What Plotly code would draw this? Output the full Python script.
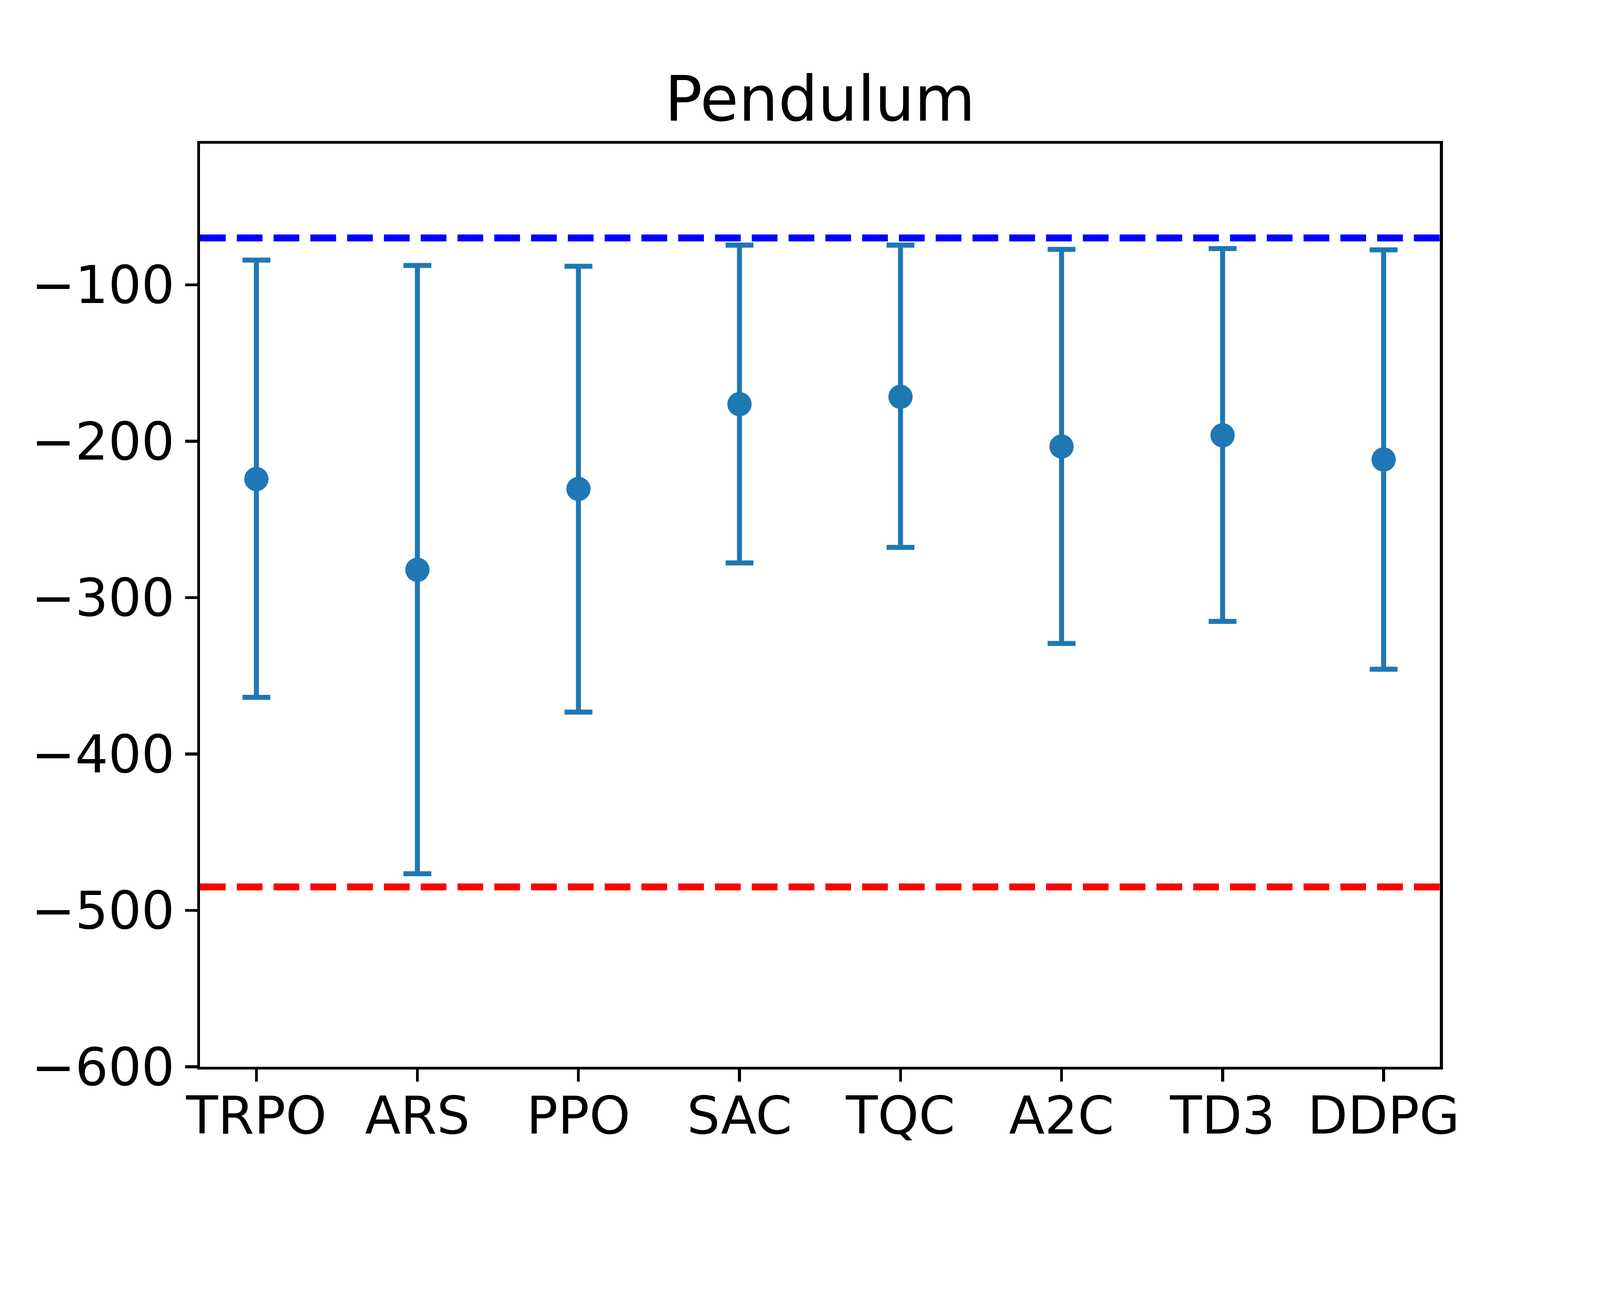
import plotly.graph_objects as go

# ---- data ----
methods = ["TRPO", "ARS", "PPO", "SAC", "TQC", "A2C", "TD3", "DDPG"]
mean_return = [-224.2, -282.2, -230.5, -176.3, -171.6, -203.4, -196.2, -211.7]
upper_return = [-84.2, -87.6, -88.1, -74.6, -74.6, -77.3, -76.8, -77.6]
lower_return = [-363.8, -476.6, -373.2, -277.8, -267.9, -329.3, -315.2, -345.8]
upper_ref = -70
lower_ref = -485
y_ticks = [-600, -500, -400, -300, -200, -100]
title_text = "Pendulum"

err_plus = [u - m for u, m in zip(upper_return, mean_return)]
err_minus = [m - l for m, l in zip(mean_return, lower_return)]

W, H = 4480, 3360
FONT = "DejaVu Sans"
C = "#1f77b4"

fig = go.Figure()
fig.add_trace(go.Scatter(
    x=methods, y=mean_return, mode="markers",
    marker=dict(color=C, size=68, line=dict(width=0)),
    error_y=dict(type="data", symmetric=False, array=err_plus, arrayminus=err_minus,
                 color=C, thickness=14, width=39),
    showlegend=False,
))

for val, col in [(upper_ref, "#0000ff"), (lower_ref, "#ff0000")]:
    fig.add_shape(type="line", xref="paper", x0=0, x1=1, yref="y", y0=val, y1=val,
                  line=dict(color=col, width=19.4, dash="72px,31px"), layer="above")

fig.update_layout(
    width=W, height=H,
    margin=dict(l=560, r=W - 4032, t=403, b=H - 2988, pad=0),
    paper_bgcolor="white", plot_bgcolor="white",
    font=dict(family=FONT, color="black", size=146),
    title=dict(text=title_text, x=0.5, xref="paper", xanchor="center",
               y=1 - 338 / H, yref="container", yanchor="bottom",
               font=dict(family=FONT, size=175, color="black")),
)
fig.update_xaxes(
    type="category", range=[-0.35, len(methods) - 1 + 0.35],
    showgrid=False, zeroline=False,
    showline=True, linecolor="black", linewidth=7.8, mirror=True,
    ticks="outside", ticklen=34, tickwidth=7.8, tickcolor="black",
    ticklabelstandoff=-30,
    tickfont=dict(family=FONT, size=146, color="black"),
)
fig.update_yaxes(
    range=[-600, -9.85],
    tickvals=y_ticks, ticktext=[("\u2212" + str(abs(v))) if v < 0 else str(v) for v in y_ticks],
    showgrid=False, zeroline=False,
    showline=True, linecolor="black", linewidth=7.8, mirror=True,
    ticks="outside", ticklen=34, tickwidth=7.8, tickcolor="black",
    tickfont=dict(family=FONT, size=146, color="black"),
)

fit_js = """
var gd = document.getElementById('{plot_id}');
document.documentElement.style.margin = '0';
document.body.style.margin = '0';
document.body.style.overflow = 'hidden';
var s = Math.min(window.innerWidth / %d, window.innerHeight / %d);
if (s < 0.999) {
  gd.style.transformOrigin = '0 0';
  gd.style.transform = 'scale(' + s + ')';
}
""" % (W, H)

fig.write_html("out.html", post_script=fit_js, config={"displayModeBar": False})
